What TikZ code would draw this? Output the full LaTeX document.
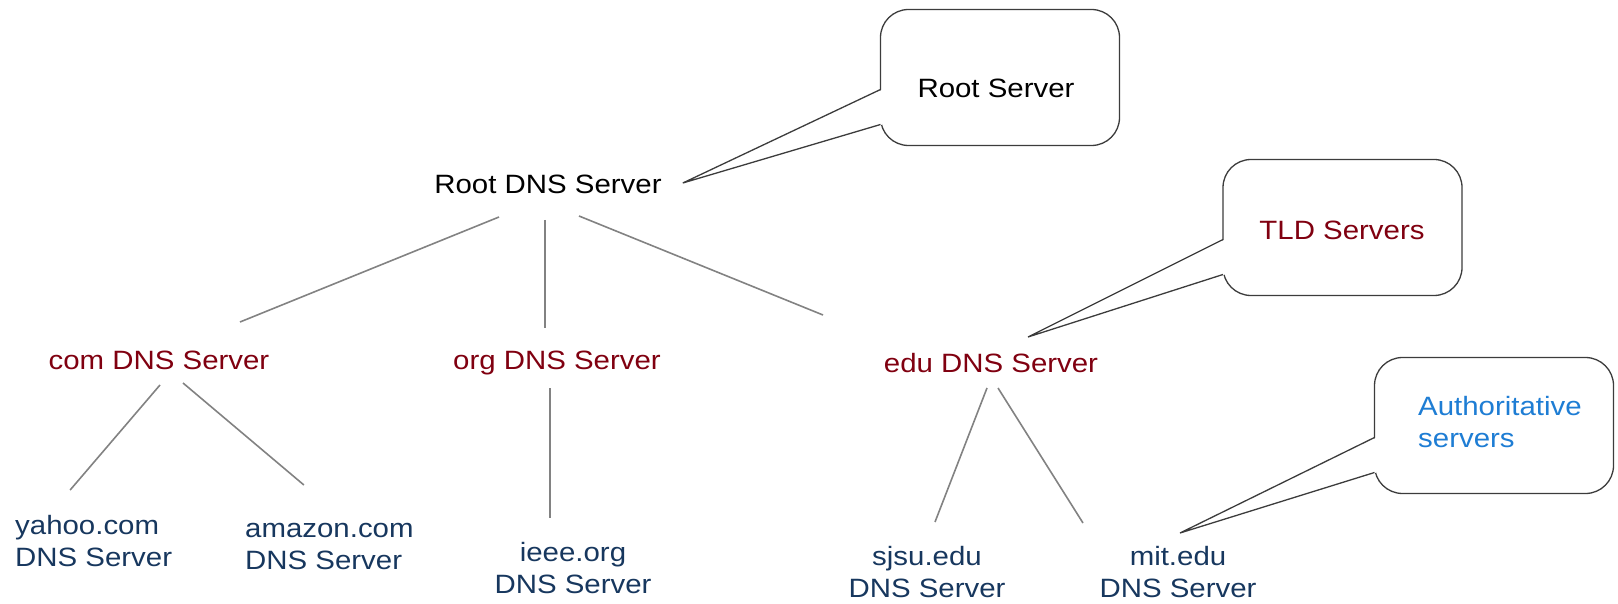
\documentclass[tikz,border=0pt]{standalone}
\usepackage{fontspec}
\setmainfont{Liberation Sans}[FakeStretch=1.11]
\usetikzlibrary{calc}
\definecolor{tld}{RGB}{128,0,16}
\definecolor{authtext}{RGB}{23,55,94}
\definecolor{authcall}{RGB}{30,125,212}
\definecolor{linegray}{RGB}{130,130,130}
\definecolor{callgray}{RGB}{60,60,60}
\begin{document}
\begin{tikzpicture}[x=1pt,y=-1pt,
  every node/.style={font=\fontsize{26.5}{32}\selectfont, inner sep=0pt},
  lbl/.style={text height=19pt, text depth=0pt},
  tree/.style={draw=linegray, line width=1.6pt},
  callbox/.style={draw=callgray, fill=white, line width=1.3pt, rounded corners=28pt,
    minimum width=239pt, minimum height=136pt, outer sep=0pt},
  callline/.style={draw=callgray, line width=1.3pt, line join=miter},
]
\useasboundingbox (0,0) rectangle (1618,604);

% tree nodes
\node[lbl] (root) at (548,184) {Root DNS Server};
\node[lbl, text=tld] (com) at (159,360) {com DNS Server};
\node[lbl, text=tld] (org) at (557,360) {org DNS Server};
\node[lbl, text=tld] (edu) at (991,363) {edu DNS Server};
\node[align=left, anchor=west, text=authtext] (yahoo) at (15,541) {yahoo.com\\DNS Server};
\node[align=left, anchor=west, text=authtext] (amazon) at (245,546.5) {amazon.com\\DNS Server};
\node[align=center, text=authtext] (ieee) at (573,568) {ieee.org\\DNS Server};
\node[align=center, text=authtext] (sjsu) at (927,572) {sjsu.edu\\DNS Server};
\node[align=center, text=authtext] (mit) at (1178,572) {mit.edu\\DNS Server};

% tree connectors
\draw[tree] ($(root.center)+(-49,33)$) -- ($(com.center)+(81,-38)$);
\draw[tree] ($(root.center)+(-3,36)$) -- ($(org.center)+(-12,-32)$);
\draw[tree] ($(root.center)+(31,32)$) -- ($(edu.center)+(-168,-48)$);
\draw[tree] ($(com.center)+(1,25)$) -- ($(yahoo.center)+(-23.5,-51)$);
\draw[tree] ($(com.center)+(24,23)$) -- ($(amazon.center)+(-25.5,-61.5)$);
\draw[tree] ($(org.center)+(-7,28)$) -- ($(ieee.center)+(-23,-50)$);
\draw[tree] ($(edu.center)+(-4,25)$) -- ($(sjsu.center)+(8,-50)$);
\draw[tree] ($(edu.center)+(7,25)$) -- ($(mit.center)+(-95,-49)$);

% callout: Root Server
\node[callbox] (rbox) at (1000,77.5) {};
\coordinate (rtip) at ($(root.east)+(21,-1)$);
\fill[white] (rtip) -- ($(rbox.north west)+(2,80)$) -- ($(rbox.north west)+(2,115)$) -- cycle;
\draw[callline] ($(rbox.north west)+(0,80)$) -- (rtip) -- ($(rbox.north west)+(0,115)$);
\node[lbl] (rtext) at (996,88) {Root Server};

% callout: TLD Servers
\node[callbox] (tbox) at (1342.5,227.5) {};
\coordinate (ttip) at ($(edu.center)+(37,-26)$);
\fill[white] (ttip) -- ($(tbox.north west)+(2,80)$) -- ($(tbox.north west)+(2,115)$) -- cycle;
\draw[callline] ($(tbox.north west)+(0,80)$) -- (ttip) -- ($(tbox.north west)+(0,115)$);
\node[lbl, text=tld] (ttext) at (1342,230) {TLD Servers};

% callout: Authoritative servers
\node[callbox] (abox) at (1494,425.5) {};
\coordinate (atip) at ($(mit.center)+(2,-39)$);
\fill[white] (atip) -- ($(abox.north west)+(2,80)$) -- ($(abox.north west)+(2,115)$) -- cycle;
\draw[callline] ($(abox.north west)+(0,80)$) -- (atip) -- ($(abox.north west)+(0,115)$);
\node[align=left, anchor=west, text=authcall] (atext) at (1418,422.5) {Authoritative\\servers};
\end{tikzpicture}
\end{document}
